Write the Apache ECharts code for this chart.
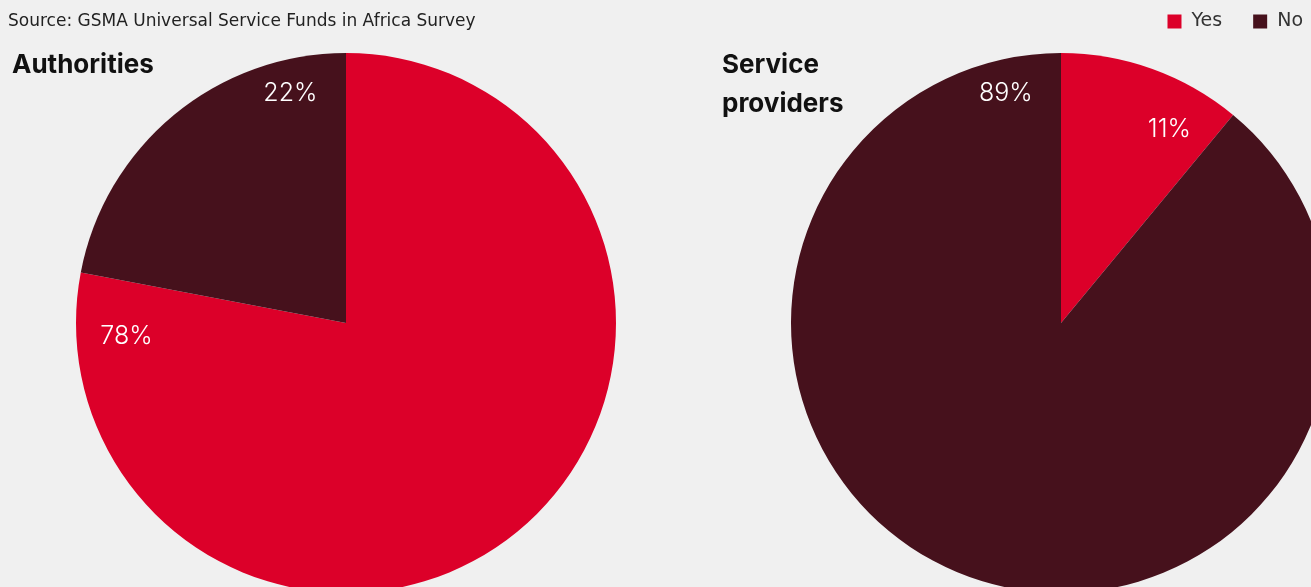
<!DOCTYPE html>
<html>
<head>
<meta charset="utf-8">
<script src="https://cdn.jsdelivr.net/npm/echarts@6/dist/echarts.min.js"></script>
<style>
  html, body { margin: 0; padding: 0; background: #f0f0f0; }
  #chart { width: 1311px; height: 587px; }
</style>
</head>
<body>
<div id="chart"></div>
<script>
// Survey answers, in percent
const categories = ['Yes', 'No'];
const authoritiesValues = [78, 22];
const providersValues = [11, 89];
const panelTitles = ['Authorities', 'Service\nproviders'];
const sourceNote = 'Source: GSMA Universal Service Funds in Africa Survey';

const COLORS = { Yes: '#dc0029', No: '#46111c' };
const FONT = 'Inter, "Noto Sans", sans-serif';
const WIDE_FONT = '"DejaVu Sans", sans-serif';
const RADIUS = 270;
const LABEL_SIZE = 25;

const chart = echarts.init(document.getElementById('chart'));

// Put each percentage label just inside the clockwise edge of its slice,
// close to the outer arc.
function edgeLabelLayout(values, center) {
  const total = values.reduce((s, v) => s + v, 0);
  return function (params) {
    let cum = 0;
    for (let i = 0; i <= params.dataIndex; i++) cum += values[i];
    const theta = (cum / total) * 2 * Math.PI;
    const u = [Math.sin(theta), -Math.cos(theta)];   // along the slice edge
    const n = [-Math.cos(theta), -Math.sin(theta)];  // into the slice
    const w = params.labelRect.width;
    const h = LABEL_SIZE * 0.85;
    const outer = RADIUS - 29;
    const b = 1.36 * w - 18;
    const a = outer - (w / 2) * Math.abs(u[0]) - (h / 2) * Math.abs(u[1]);
    return {
      x: center[0] + a * u[0] + b * n[0],
      y: center[1] + a * u[1] + b * n[1] + 1,
      align: 'center',
      verticalAlign: 'middle'
    };
  };
}

function pieSeries(name, values, center) {
  return {
    name: name,
    type: 'pie',
    center: center,
    radius: RADIUS,
    startAngle: 90,
    clockwise: true,
    silent: true,
    animation: false,
    itemStyle: { borderWidth: 0 },
    label: {
      show: true,
      position: 'inside',
      formatter: '{c}%',
      color: '#ffffff',
      fontFamily: FONT,
      fontSize: LABEL_SIZE,
      fontWeight: 300
    },
    labelLine: { show: false },
    labelLayout: edgeLabelLayout(values, center),
    data: categories.map((c, i) => ({
      name: c,
      value: values[i],
      itemStyle: { color: COLORS[c] }
    }))
  };
}

const titleStyle = {
  fontFamily: FONT,
  fontSize: 26,
  fontWeight: 'bold',
  color: '#111111',
  lineHeight: 39
};

chart.setOption({
  backgroundColor: '#f0f0f0',
  title: [
    {
      text: sourceNote,
      left: 3,
      top: 8,
      textStyle: { fontFamily: WIDE_FONT, fontSize: 17, fontWeight: 'normal', color: '#222222' }
    },
    { text: panelTitles[0], left: 7, top: 41, textStyle: titleStyle },
    { text: panelTitles[1], left: 717, top: 41, textStyle: titleStyle }
  ],
  legend: {
    right: 3,
    top: 7,
    icon: 'rect',
    itemWidth: 14,
    itemHeight: 14,
    itemGap: 31,
    textStyle: { fontFamily: WIDE_FONT, fontSize: 19, color: '#333333', padding: [0, 0, 0, 5] },
    data: categories
  },
  series: [
    pieSeries('Authorities', authoritiesValues, [346, 323]),
    pieSeries('Service providers', providersValues, [1061, 323])
  ]
});
</script>
</body>
</html>
